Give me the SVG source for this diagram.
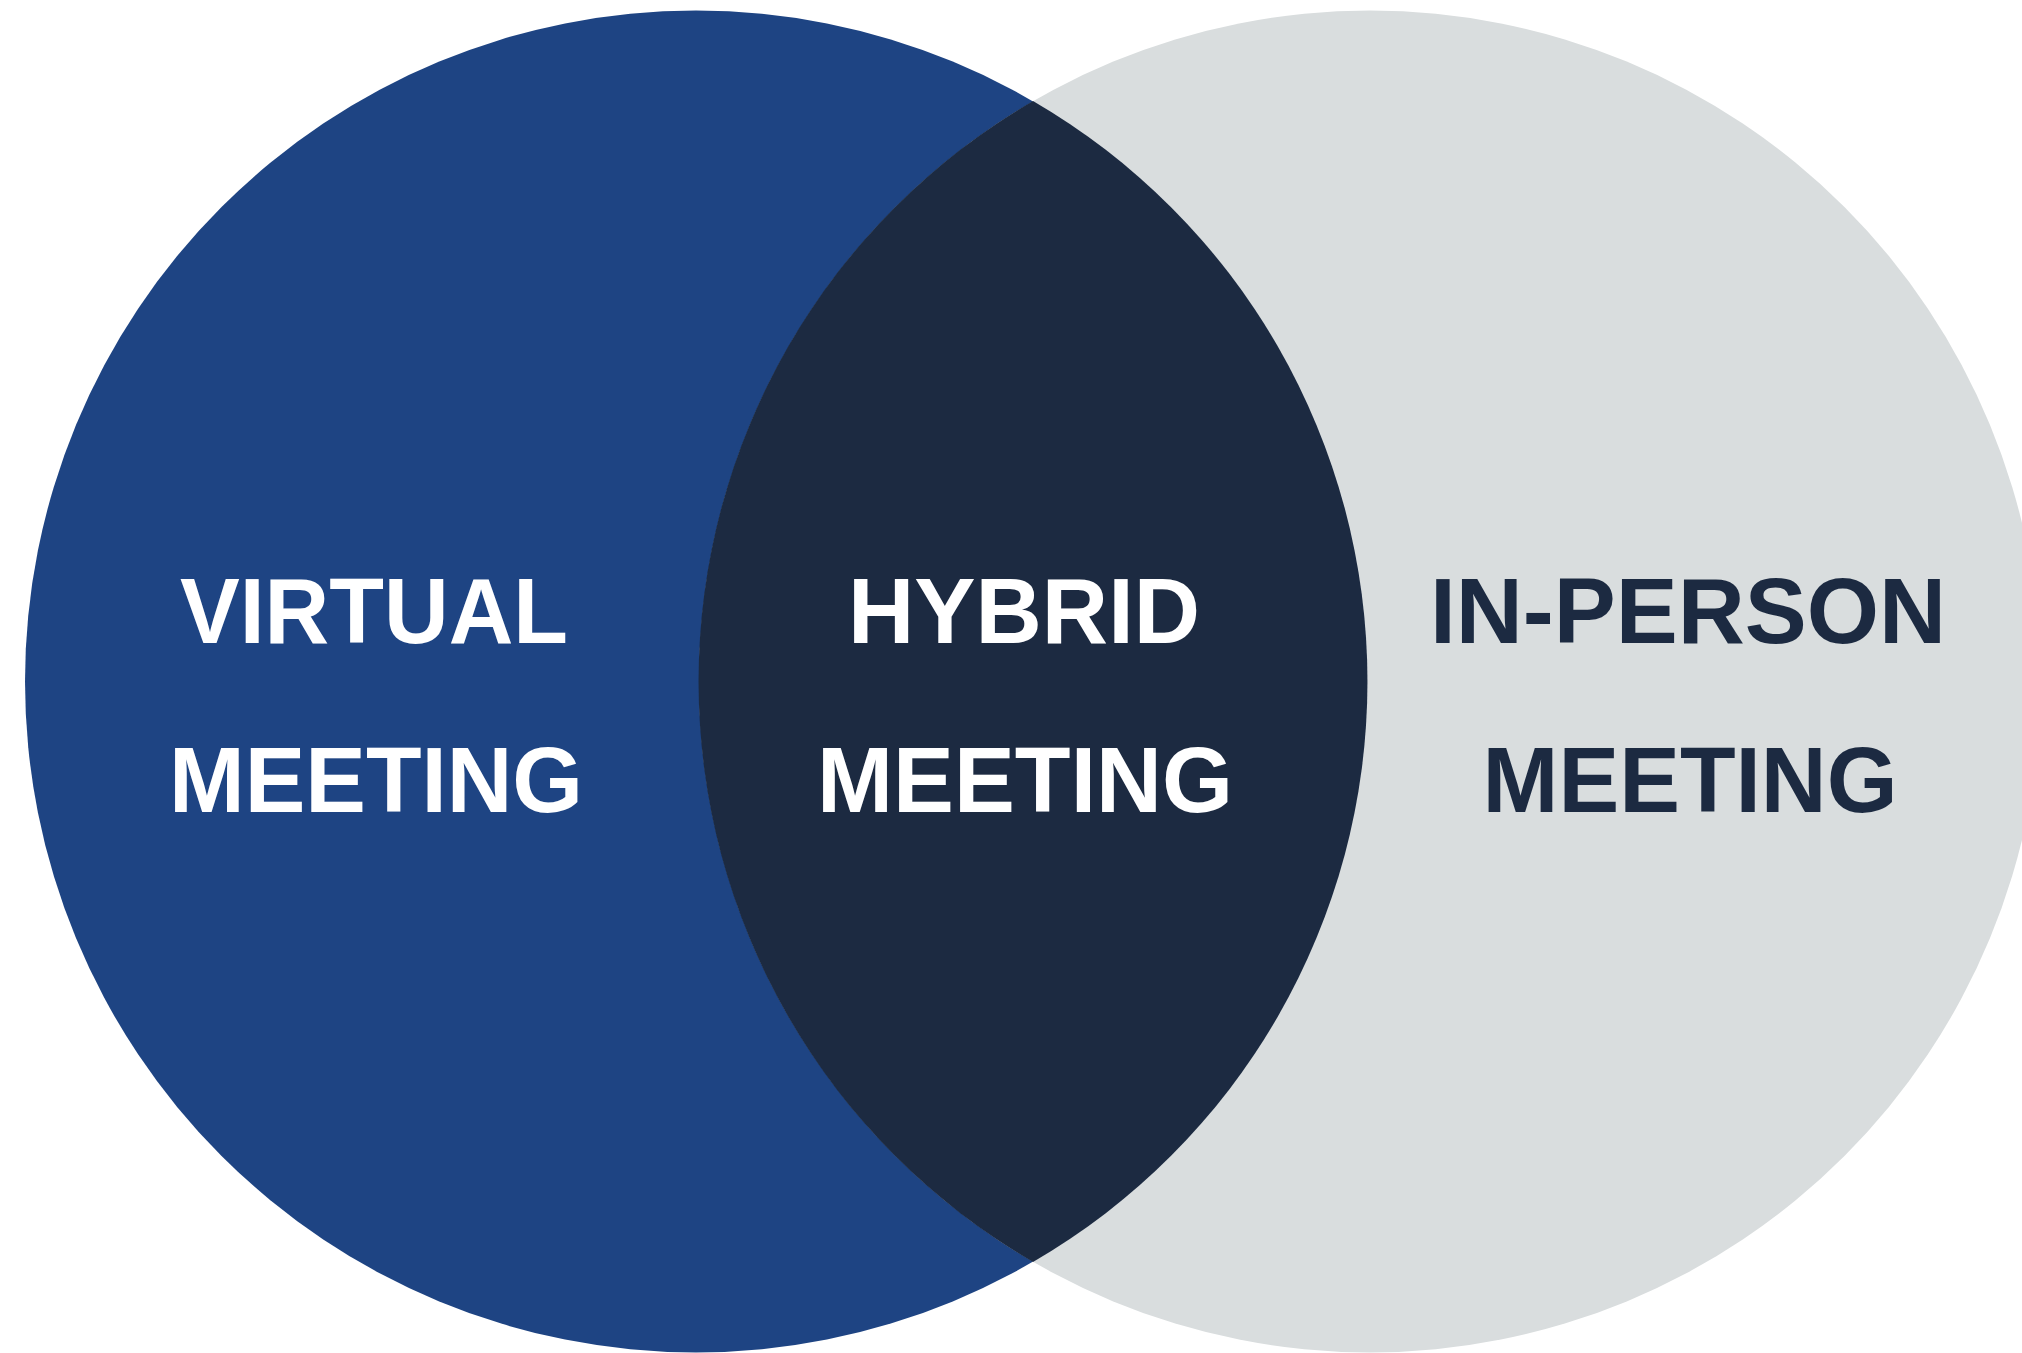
<svg xmlns="http://www.w3.org/2000/svg" width="2022" height="1353" viewBox="0 0 2022 1353">
<style>
.lbl{font-family:"Liberation Sans",Arial,sans-serif;font-weight:bold;font-size:93px;text-anchor:middle}
.w{fill:#ffffff}
.d{fill:#1C2A41}
</style>
<rect width="2022" height="1353" fill="#ffffff"/>
<g id="virtual">
<circle cx="696" cy="681.5" r="671" fill="#1E4483"/>
</g>
<g id="in-person">
<circle cx="1370" cy="681.5" r="671" fill="#D9DDDE"/>
</g>
<g id="hybrid">
<path d="M1033,101 A671,671 0 0,0 1033,1262 A671,671 0 0,0 1033,101 Z" fill="#1C2A41"/>
</g>
<g id="labels">
<text class="lbl w" x="374" y="643" textLength="388" lengthAdjust="spacingAndGlyphs">VIRTUAL</text>
<text class="lbl w" x="376" y="812" textLength="414" lengthAdjust="spacingAndGlyphs">MEETING</text>
<text class="lbl w" x="1024" y="643" textLength="352" lengthAdjust="spacingAndGlyphs">HYBRID</text>
<text class="lbl w" x="1025" y="812" textLength="416" lengthAdjust="spacingAndGlyphs">MEETING</text>
<text class="lbl d" x="1688" y="643" textLength="516" lengthAdjust="spacingAndGlyphs">IN-PERSON</text>
<text class="lbl d" x="1690" y="812" textLength="415" lengthAdjust="spacingAndGlyphs">MEETING</text>
</g>
</svg>
